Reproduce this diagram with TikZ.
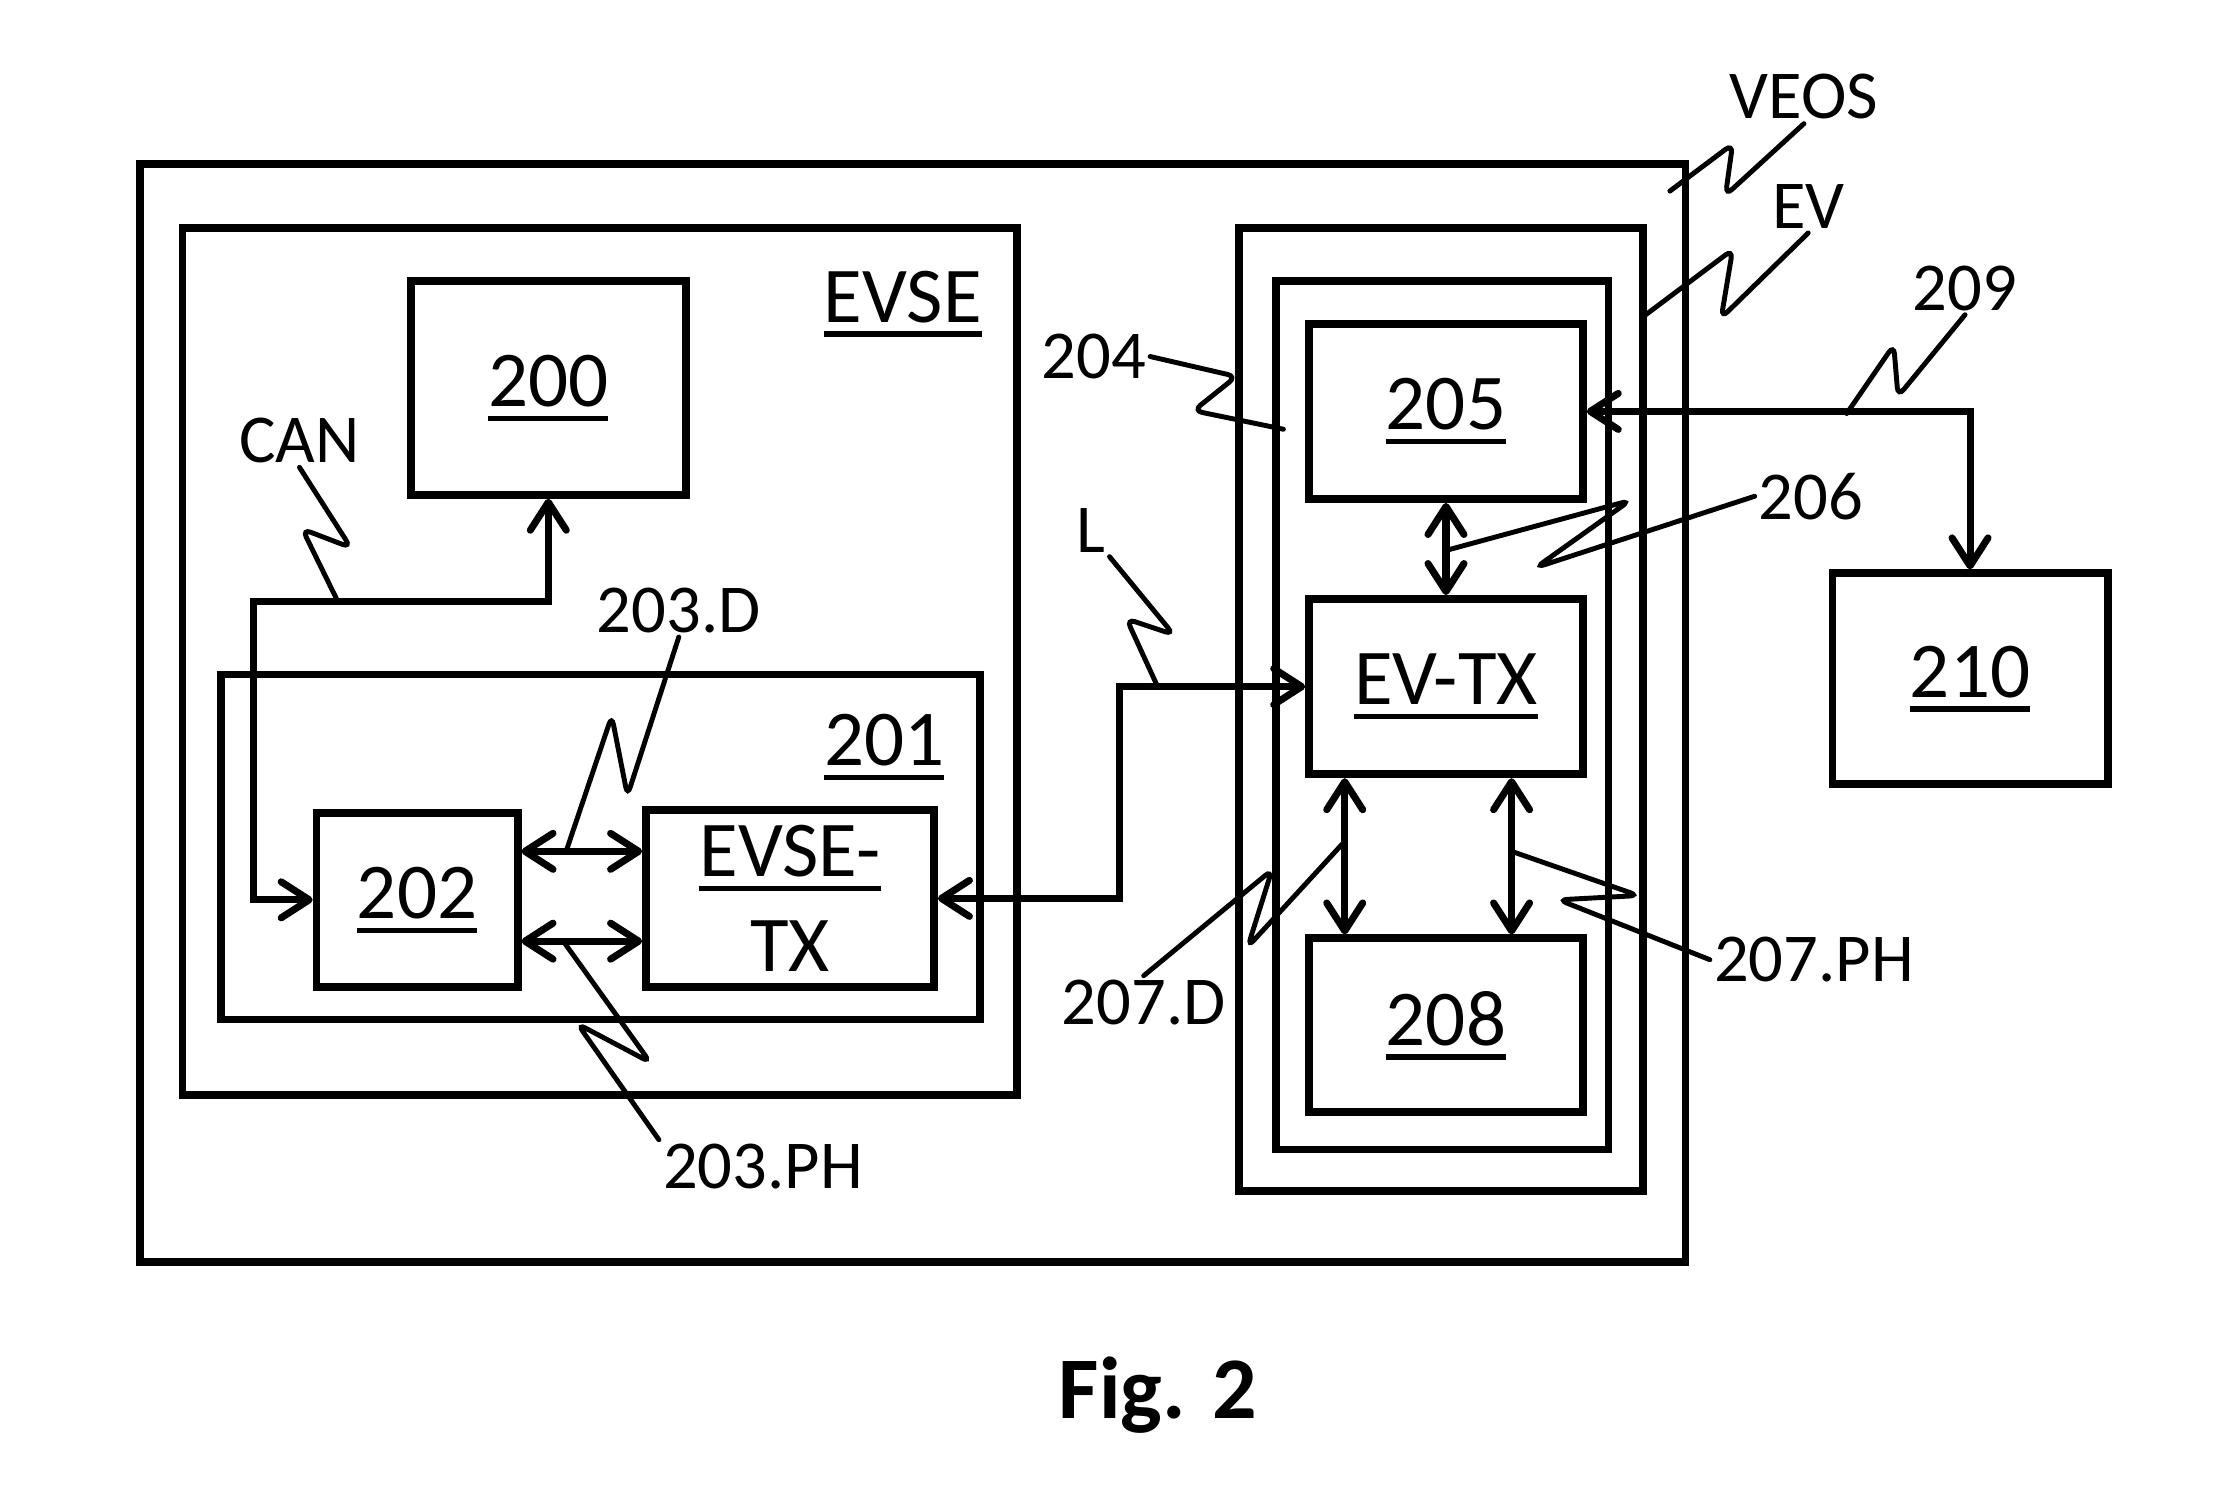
\documentclass[tikz,border=0pt]{standalone}
\usepackage{fontspec}
\setmainfont{Carlito}
\usepackage{tikz}
\usetikzlibrary{arrows.meta,positioning,calc,fit}
\definecolor{FigInk}{HTML}{000000}
\newcommand{\refnum}[1]{\setbox0=\hbox{#1}\vtop{\hbox{\copy0}\kern2.5pt\hrule height 1.5pt width \wd0}}

\begin{document}
\begin{tikzpicture}[x=0.1426mm,y=-0.1426mm,
    box/.style={draw=FigInk,line width=2.2pt,inner sep=0pt},
    num/.style={font=\fontsize{22.5}{27}\selectfont,text=FigInk},
    tag/.style={font=\fontsize{19.5}{23}\selectfont,text=FigInk,inner sep=1pt},
    conn/.style={draw=FigInk,line width=2pt,
      {Straight Barb[length=2.8mm,width=3.6mm,round]}-{Straight Barb[length=2.8mm,width=3.6mm,round]}},
    lead/.style={draw=FigInk,line width=1.4pt,rounded corners=2.5pt,line cap=round}]
    \useasboundingbox (0,0) rectangle (1568,1055);

    % VEOS
    \node[box,fit={(98,115)(1182,885)}] (veos) {};

    % EVSE side
    \node[box,fit={(128,160)(713,768)}] (evse) {};
    \node[box,fit={(288,197)(481,347)},label={[num]center:\refnum{200}}] (n200) {};
    \node[box,fit={(155,473)(687,715)}] (n201) {};
    \node[box,fit={(222,570)(363,692)},label={[num]center:\refnum{202}}] (n202) {};
    \node[box,fit={(453,568)(655,692)},label={[num,align=center]center:{\refnum{EVSE-}\\TX}}] (evsetx) {};
    \node[num] (levse) at (633,213) {\refnum{EVSE}};
    \node[num] (l201) at (620,524) {\refnum{201}};

    % EV side
    \node[box,fit={(869,160)(1152,835)}] (ev) {};
    \node[box,fit={(895,197)(1128,806)}] (n204) {};
    \node[box,fit={(918,227)(1110,350)},label={[num]center:\refnum{205}}] (n205) {};
    \node[box,fit={(918,420)(1110,543)},label={[num]center:\refnum{EV-TX}}] (evtx) {};
    \node[box,fit={(918,658)(1110,780)},label={[num]center:\refnum{208}}] (n208) {};
    \node[box,fit={(1285,402)(1478,550)},label={[num]center:\refnum{210}}] (n210) {};

    % tags
    \node[tag] (lveos) at (1265,68) {VEOS};
    \node[tag] (lev) at (1268,145) {EV};
    \node[tag] (l209) at (1378,202) {209};
    \node[tag] (l204) at (767,250) {204};
    \node[tag] (l206) at (1270,348) {206};
    \node[tag] (ll) at (765,372) {L};
    \node[tag] (lcan) at (210,309) {CAN};
    \node[tag] (l203d) at (476,428) {203.D};
    \node[tag] (l207d) at (802,703) {207.D};
    \node[tag] (l207ph) at (1272,673) {207.PH};
    \node[tag] (l203ph) at (535,818) {203.PH};
    \node[font=\bfseries\fontsize{25}{30}\selectfont] (fig) at (812,978) {Fig. 2};

    % links
    \coordinate (canbend) at (178,422);
    \draw[conn] (n200.south) |- (canbend) |- (n202.west);
    \draw[conn] (n202.east |- 0,597) -- (evsetx.west |- 0,597);
    \draw[conn] (n202.east |- 0,660) -- (evsetx.west |- 0,660);
    \coordinate (lbend) at (785,630);
    \draw[conn] (evsetx.east) -- (lbend) |- (evtx.west);
    \draw[conn] (n205.south) -- (evtx.north);
    \draw[conn] (evtx.south -| 943,0) -- (n208.north -| 943,0);
    \draw[conn] (evtx.south -| 1060,0) -- (n208.north -| 1060,0);
    \draw[conn] (n205.east) -| (n210.north);

    % lead lines
    \draw[lead] (lcan.south) -- (246,384) -- (212,371) -- (237,422);
    \draw[lead] (lveos.south) -- (1210,137) -- (1215,101) -- (1171,134);
    \draw[lead] (lev.south) -- (1207,223) -- (1215,175) -- (1151,223);
    \draw[lead] (l209.south) -- (1331,278) -- (1328,242) -- (1295,290);
    \draw[lead] (l204.east) -- (867,264) -- (837,288) -- (900,301);
    \draw[lead] (l206.west) -- (1077,398) -- (1143,351) -- (1014,386);
    \draw[lead] (ll.south east) -- (823,445) -- (790,434) -- (812,482);
    \draw[lead] (l203d.south) -- (440,558) -- (429,502) -- (397,597);
    \draw[lead] (l203ph.north west) -- (405,718) -- (456,745) -- (395,660);
    \draw[lead] (l207d.north) -- (892,610) -- (875,664) -- (943,590);
    \draw[lead] (l207ph.west) -- (1093,631) -- (1149,628) -- (1060,597);
\end{tikzpicture}
\end{document}
